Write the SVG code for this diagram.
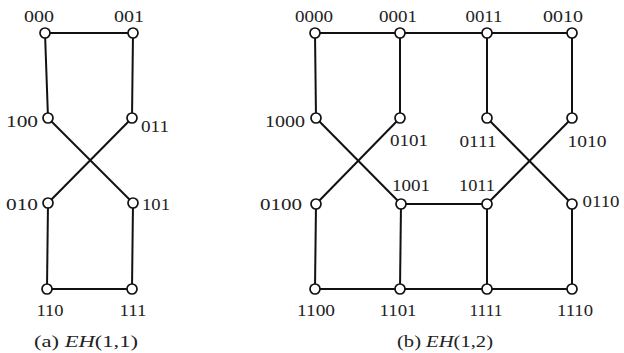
<svg xmlns="http://www.w3.org/2000/svg" width="624" height="353" viewBox="0 0 624 353">
<style>
.e{stroke:#111;stroke-width:2;fill:none}
.n{fill:#fff;stroke:#111;stroke-width:1.7}
text{font-family:"Liberation Serif","Times New Roman",serif;font-size:17px;fill:#222}
.m{text-anchor:middle}
</style>
<rect width="624" height="353" fill="#fff"/>
<g id="edges-a">
<line class="e" x1="45" y1="33" x2="133" y2="33"/>
<line class="e" x1="45" y1="33" x2="48" y2="118"/>
<line class="e" x1="133" y1="33" x2="132" y2="118"/>
<line class="e" x1="48" y1="118" x2="133" y2="203"/>
<line class="e" x1="132" y1="118" x2="48" y2="203"/>
<line class="e" x1="48" y1="203" x2="47" y2="289"/>
<line class="e" x1="133" y1="203" x2="132" y2="289"/>
<line class="e" x1="47" y1="289" x2="132" y2="289"/>
</g>
<g id="edges-b">
<line class="e" x1="315" y1="33" x2="572" y2="33"/>
<line class="e" x1="315" y1="33" x2="316" y2="118"/>
<line class="e" x1="400" y1="33" x2="400" y2="118"/>
<line class="e" x1="487" y1="33" x2="487" y2="118"/>
<line class="e" x1="572" y1="33" x2="572" y2="118"/>
<line class="e" x1="316" y1="118" x2="401" y2="204"/>
<line class="e" x1="400" y1="118" x2="316" y2="204"/>
<line class="e" x1="487" y1="118" x2="572" y2="204"/>
<line class="e" x1="572" y1="118" x2="487" y2="204"/>
<line class="e" x1="401" y1="204" x2="487" y2="204"/>
<line class="e" x1="316" y1="204" x2="315" y2="289"/>
<line class="e" x1="401" y1="204" x2="400" y2="289"/>
<line class="e" x1="487" y1="204" x2="487" y2="289"/>
<line class="e" x1="572" y1="204" x2="572" y2="289"/>
<line class="e" x1="315" y1="289" x2="572" y2="289"/>
</g>
<g id="n000"><circle class="n" cx="45" cy="33" r="5"/><text class="m" x="39" y="22" textLength="30" lengthAdjust="spacingAndGlyphs">000</text></g>
<g id="n001"><circle class="n" cx="133" cy="33" r="5"/><text class="m" x="129" y="22" textLength="30" lengthAdjust="spacingAndGlyphs">001</text></g>
<g id="n100"><circle class="n" cx="48" cy="118" r="5"/><text class="m" x="22" y="127" textLength="32" lengthAdjust="spacingAndGlyphs">100</text></g>
<g id="n011"><circle class="n" cx="132" cy="118" r="5"/><text class="m" x="155" y="132" textLength="28" lengthAdjust="spacingAndGlyphs">011</text></g>
<g id="n010"><circle class="n" cx="48" cy="203" r="5"/><text class="m" x="22" y="210" textLength="32" lengthAdjust="spacingAndGlyphs">010</text></g>
<g id="n101"><circle class="n" cx="133" cy="203" r="5"/><text class="m" x="156" y="210" textLength="28" lengthAdjust="spacingAndGlyphs">101</text></g>
<g id="n110"><circle class="n" cx="47" cy="289" r="5"/><text class="m" x="50" y="316" textLength="27" lengthAdjust="spacingAndGlyphs">110</text></g>
<g id="n111"><circle class="n" cx="132" cy="289" r="5"/><text class="m" x="133" y="316" textLength="27" lengthAdjust="spacingAndGlyphs">111</text></g>
<g id="cap-a"><text class="m" x="86" y="347" textLength="104" lengthAdjust="spacingAndGlyphs">(a) <tspan font-style="italic">EH</tspan>(1,1)</text></g>

<g id="n0000"><circle class="n" cx="315" cy="33" r="5"/><text class="m" x="314" y="22" textLength="38" lengthAdjust="spacingAndGlyphs">0000</text></g>
<g id="n0001"><circle class="n" cx="400" cy="33" r="5"/><text class="m" x="398" y="22" textLength="38" lengthAdjust="spacingAndGlyphs">0001</text></g>
<g id="n0011"><circle class="n" cx="487" cy="33" r="5"/><text class="m" x="484" y="22" textLength="37" lengthAdjust="spacingAndGlyphs">0011</text></g>
<g id="n0010"><circle class="n" cx="572" cy="33" r="5"/><text class="m" x="563" y="22" textLength="40" lengthAdjust="spacingAndGlyphs">0010</text></g>
<g id="n1000"><circle class="n" cx="316" cy="118" r="5"/><text class="m" x="285" y="127" textLength="40" lengthAdjust="spacingAndGlyphs">1000</text></g>
<g id="n0101"><circle class="n" cx="400" cy="118" r="5"/><text class="m" x="409" y="146" textLength="38" lengthAdjust="spacingAndGlyphs">0101</text></g>
<g id="n0111"><circle class="n" cx="487" cy="118" r="5"/><text class="m" x="478" y="147" textLength="37" lengthAdjust="spacingAndGlyphs">0111</text></g>
<g id="n1010"><circle class="n" cx="572" cy="118" r="5"/><text class="m" x="587" y="147" textLength="39" lengthAdjust="spacingAndGlyphs">1010</text></g>
<g id="n0100"><circle class="n" cx="316" cy="204" r="5"/><text class="m" x="281" y="210" textLength="42" lengthAdjust="spacingAndGlyphs">0100</text></g>
<g id="n1001"><circle class="n" cx="401" cy="204" r="5"/><text class="m" x="411" y="191" textLength="38" lengthAdjust="spacingAndGlyphs">1001</text></g>
<g id="n1011"><circle class="n" cx="487" cy="204" r="5"/><text class="m" x="477" y="191" textLength="36" lengthAdjust="spacingAndGlyphs">1011</text></g>
<g id="n0110"><circle class="n" cx="572" cy="204" r="5"/><text class="m" x="601" y="207" textLength="37" lengthAdjust="spacingAndGlyphs">0110</text></g>
<g id="n1100"><circle class="n" cx="315" cy="289" r="5"/><text class="m" x="316" y="316" textLength="38" lengthAdjust="spacingAndGlyphs">1100</text></g>
<g id="n1101"><circle class="n" cx="400" cy="289" r="5"/><text class="m" x="398" y="316" textLength="37" lengthAdjust="spacingAndGlyphs">1101</text></g>
<g id="n1111"><circle class="n" cx="487" cy="289" r="5"/><text class="m" x="486" y="316" textLength="33" lengthAdjust="spacingAndGlyphs">1111</text></g>
<g id="n1110"><circle class="n" cx="572" cy="289" r="5"/><text class="m" x="575" y="316" textLength="36" lengthAdjust="spacingAndGlyphs">1110</text></g>
<g id="cap-b"><text class="m" x="445" y="347" textLength="96" lengthAdjust="spacingAndGlyphs">(b) <tspan font-style="italic">EH</tspan>(1,2)</text></g>
</svg>
